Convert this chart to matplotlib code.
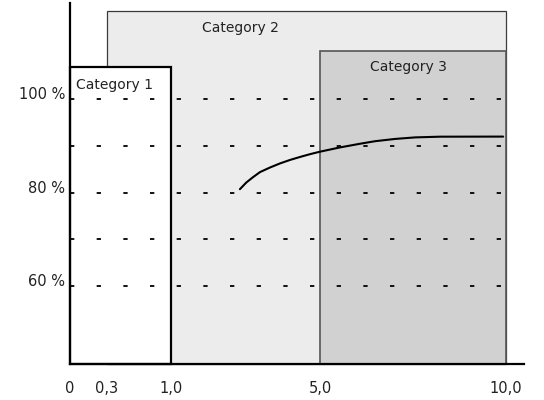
import numpy as np
import matplotlib
matplotlib.use("Agg")
import matplotlib.pyplot as plt
from matplotlib.patches import Rectangle

# ---- data ----
x_tick_values = [0, 0.3, 1.0, 5.0, 10.0]
x_tick_labels = ["0", "0,3", "1,0", "5,0", "10,0"]
y_tick_values = [60, 80, 100]
y_tick_labels = ["60 %", "80 %", "100 %"]
grid_values = [60, 70, 80, 90, 100]

categories = ["Category 1", "Category 2", "Category 3"]
cat_x_start = [0.0, 0.3, 5.0]
cat_x_end = [1.0, 10.0, 10.0]
cat_top = [106.9, 118.9, 110.5]

curve_x = [2.85, 3.02, 3.20, 3.39, 3.66, 3.93, 4.20, 4.47, 4.73, 5.00,
           5.54, 6.08, 6.48, 7.02, 7.56, 8.23, 9.92]
curve_y = [80.73, 82.15, 83.30, 84.40, 85.39, 86.27, 87.02, 87.66, 88.24,
           88.78, 89.70, 90.49, 91.03, 91.52, 91.85, 92.00, 92.02]

# ---- style ----
plt.rcParams['lines.scale_dashes'] = False
plt.rcParams['font.family'] = ['DejaVu Sans']

fig = plt.figure(figsize=(5.44, 4.0), dpi=100)
ax = fig.add_axes([70/544, 36/400, 454/544, 361/400])

# piecewise axis scale (0..1 stretched)
_xp = np.array([0.0, 0.3, 1.0, 10.0, 20.0])
_fp = np.array([0.0, 37.0, 101.0, 436.0, 808.0])
def fwd(x):
    return np.interp(x, _xp, _fp)
def inv(y):
    return np.interp(y, _fp, _xp)
ax.set_xscale('function', functions=(fwd, inv))
ax.set_xlim(0, 10.48)
ax.set_ylim(43.2, 120.7)

ymin = 43.2
fills = ["white", "#ececec", "#d1d1d1"]
edges = ["black", "#3a3a3a", "#555555"]
lws = [1.6, 0.9, 1.2]
order = [1, 0, 2]
text_dx = [44, 133, 88]
text_dy = [-22, -21, -20]
for z, i in enumerate(order):
    r = Rectangle((cat_x_start[i], ymin), cat_x_end[i] - cat_x_start[i],
                  cat_top[i] - ymin, facecolor=fills[i], edgecolor=edges[i],
                  linewidth=lws[i], zorder=1 + z * 0.1, clip_on=False)
    ax.add_patch(r)
    ax.annotate(categories[i], xy=(cat_x_start[i], cat_top[i]),
                xytext=(text_dx[i], text_dy[i]), textcoords='offset pixels',
                ha='center', va='baseline', fontsize=10, color='#222222',
                zorder=2)

for v in grid_values:
    ax.plot([0, 10], [v, v], color='black', linewidth=1.3,
            linestyle=(0, (3.1, 16.1)), zorder=3, solid_capstyle='butt')

ax.plot(curve_x, curve_y, color='black', linewidth=1.5, zorder=4,
        solid_joinstyle='round', solid_capstyle='round')

for s in ['top', 'right']:
    ax.spines[s].set_visible(False)
for s in ['left', 'bottom']:
    ax.spines[s].set_linewidth(1.6)
    ax.spines[s].set_zorder(5)

ax.set_xticks(x_tick_values, labels=x_tick_labels)
ax.set_yticks(y_tick_values, labels=y_tick_labels)
ax.minorticks_off()
ax.tick_params(axis='x', length=0, pad=12.5, labelsize=10.5, colors='#222222')
ax.tick_params(axis='y', length=0, pad=3.6, labelsize=10.5, colors='#222222')
for lab in ax.get_yticklabels():
    lab.set_verticalalignment('baseline')

fig.savefig("out.png", dpi=100)
